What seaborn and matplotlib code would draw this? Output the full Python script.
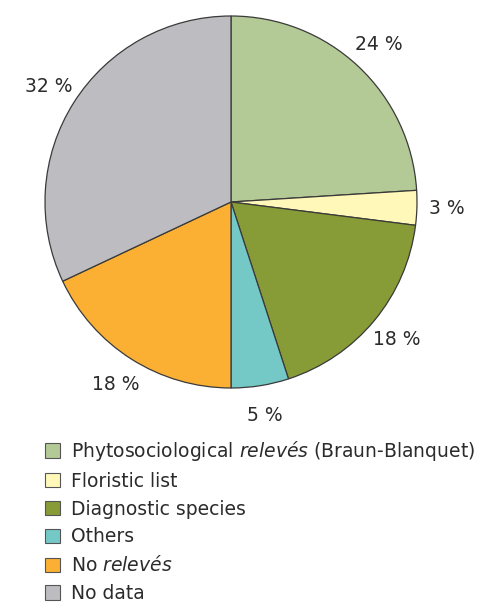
import matplotlib
matplotlib.use("Agg")
import matplotlib.pyplot as plt
from matplotlib.patches import Patch
import numpy as np
import seaborn as sns

sns.set_theme(style="white")
plt.rcParams["font.family"] = ["DejaVu Sans"]
plt.rcParams["mathtext.fontset"] = "custom"
plt.rcParams["mathtext.rm"] = "DejaVu Sans"
plt.rcParams["mathtext.it"] = "DejaVu Sans:italic"

categories = [
    r"Phytosociological $\it{relevés}$ (Braun-Blanquet)",
    "Floristic list",
    "Diagnostic species",
    "Others",
    r"No $\it{relevés}$",
    "No data",
]
shares = [24, 3, 18, 5, 18, 32]
colors = ["#b3ca96", "#fff8b9", "#879b36", "#74c9c7", "#fbb034", "#bdbdc1"]
edge = "#3a3a3a"
text_color = "#2b2b2b"

W, H = 482, 605
fig = plt.figure(figsize=(W / 100, H / 100), dpi=100)
fig.patch.set_facecolor("white")

# square axes, 400 px on a side, centred on the pie
cx, cy, half = 231, 202, 200
ax = fig.add_axes([(cx - half) / W, 1 - (cy + half) / H, 2 * half / W, 2 * half / H])

r = 186 / half
wedges, _ = ax.pie(
    shares,
    colors=colors,
    startangle=90,
    counterclock=False,
    radius=r,
    wedgeprops=dict(edgecolor=edge, linewidth=0.9),
)
ax.set_xlim(-1, 1)
ax.set_ylim(-1, 1)
ax.set_aspect("equal")
ax.axis("off")

# percentage labels just outside each wedge
for w, v in zip(wedges, shares):
    mid = np.deg2rad((w.theta1 + w.theta2) / 2)
    d = r * 1.16
    ax.text(d * np.cos(mid), d * np.sin(mid), f"{v} %", ha="center", va="center",
            fontsize=13.5, color=text_color)

handles = [Patch(facecolor=c, edgecolor="#555555", linewidth=0.8) for c in colors]
leg = fig.legend(
    handles, categories,
    loc="upper left",
    bbox_to_anchor=(45 / W, 1 - 439 / H),
    frameon=False,
    fontsize=13.5,
    handlelength=0.78,
    handleheight=0.78,
    handletextpad=0.6,
    labelspacing=0.47,
    borderaxespad=0,
    borderpad=0,
)
for t in leg.get_texts():
    t.set_color(text_color)

fig.savefig("out.png", dpi=100, facecolor="white")
